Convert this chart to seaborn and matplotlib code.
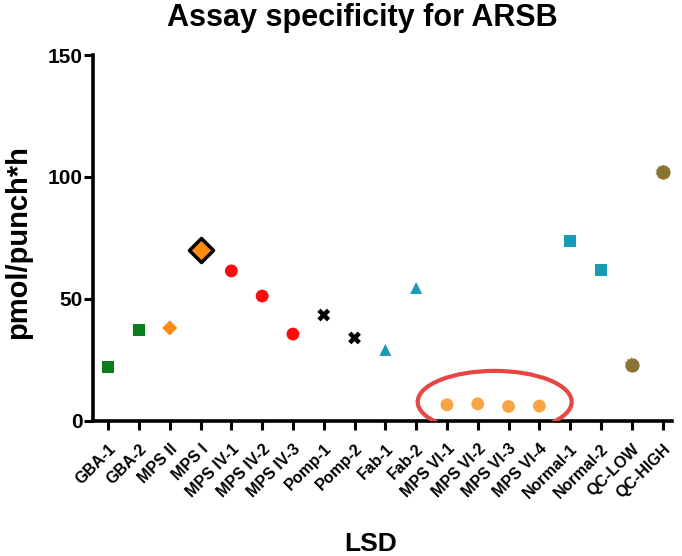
import seaborn as sns
import matplotlib.pyplot as plt
import pandas as pd
from matplotlib.patches import Ellipse

labels = ["GBA-1", "GBA-2", "MPS II", "MPS I", "MPS IV-1", "MPS IV-2", "MPS IV-3",
          "Pomp-1", "Pomp-2", "Fab-1", "Fab-2", "MPS VI-1", "MPS VI-2", "MPS VI-3",
          "MPS VI-4", "Normal-1", "Normal-2", "QC-LOW", "QC-HIGH"]
values = [22.1, 37.3, 38.1, 70.1, 61.5, 51.2, 35.6, 43.4, 34.0, 29.1, 54.5,
          6.6, 7.0, 5.9, 6.1, 73.8, 61.9, 23.0, 102.0]
groups = ["GBA", "GBA", "MPS II", "MPS I", "MPS IV", "MPS IV", "MPS IV",
          "Pomp", "Pomp", "Fab", "Fab", "MPS VI", "MPS VI", "MPS VI", "MPS VI",
          "Normal", "Normal", "QC", "QC"]

colors = {"GBA": "#0a7d1e", "MPS II": "#ff8a14", "MPS I": "#ff8a14", "MPS IV": "#ff0a0a",
          "Pomp": "#000000", "Fab": "#1a9bb5", "MPS VI": "#f9a444",
          "Normal": "#1a9bb5", "QC": "#8b7433"}
markers = {"GBA": "s", "MPS II": "D", "MPS I": "D", "MPS IV": "o", "Pomp": "X",
           "Fab": "^", "MPS VI": "o", "Normal": "s", "QC": (10, 1, 0)}
sizes = {"GBA": 75, "MPS II": 60, "MPS I": 150, "MPS IV": 85, "Pomp": 85,
         "Fab": 75, "MPS VI": 85, "Normal": 80, "QC": 125}

df = pd.DataFrame({"label": labels, "value": values, "group": groups})
df["pos"] = range(len(df))

sns.set_style("ticks")
plt.rcParams["font.family"] = ["Liberation Sans", "DejaVu Sans"]
plt.rcParams["font.weight"] = "bold"
plt.rcParams["text.color"] = "black"
plt.rcParams["axes.labelcolor"] = "black"
plt.rcParams["xtick.color"] = "black"
plt.rcParams["ytick.color"] = "black"
plt.rcParams["axes.edgecolor"] = "black"

fig = plt.figure(figsize=(6.82, 5.56), dpi=100)
ax = fig.add_axes([0.136, 0.243, 0.849, 0.658])

for g, sub in df.groupby("group", sort=False):
    edge = "black" if g == "MPS I" else "none"
    lw = 2.5 if g == "MPS I" else 0
    if g == "QC":
        # flower-like marker: disc with small bumps
        sns.scatterplot(data=sub, x="pos", y="value", color=colors[g], marker="o",
                        s=105, linewidth=0, ax=ax, zorder=3)
    sns.scatterplot(data=sub, x="pos", y="value", color=colors[g], marker=markers[g],
                    s=sizes[g], edgecolor=edge, linewidth=lw, ax=ax, zorder=3)

ell = Ellipse((12.55, 7.8), 5.0, 25.4, fill=False, edgecolor="#e84545", linewidth=3, zorder=4)
ax.add_patch(ell)

ax.set_xlim(-0.5, 18.3)
ax.set_ylim(0, 150)
ax.set_yticks([0, 50, 100, 150])
ax.set_xticks(range(len(labels)))
ax.set_xticklabels(labels, rotation=45, ha="right", rotation_mode="anchor",
                   fontsize=11.5, fontweight="bold")
for t in ax.get_yticklabels():
    t.set_fontsize(15)
    t.set_fontweight("bold")
ax.tick_params(axis="both", width=2.2, length=6.5, direction="out", color="black")
ax.tick_params(axis="x", pad=8)
ax.tick_params(axis="y", pad=1)
for side in ["left", "bottom"]:
    ax.spines[side].set_linewidth(2.6)
sns.despine(ax=ax)

ax.set_xlabel("LSD", fontsize=19, fontweight="bold")
ax.xaxis.set_label_coords(0.48, -0.303)
ax.set_ylabel("pmol/punch*h", fontsize=21, fontweight="bold")
ax.yaxis.set_label_coords(-0.105, 0.49)
ax.set_title("Assay specificity for ARSB", fontsize=22, fontweight="bold", pad=21, x=0.466)

fig.savefig("out.png", dpi=100)
